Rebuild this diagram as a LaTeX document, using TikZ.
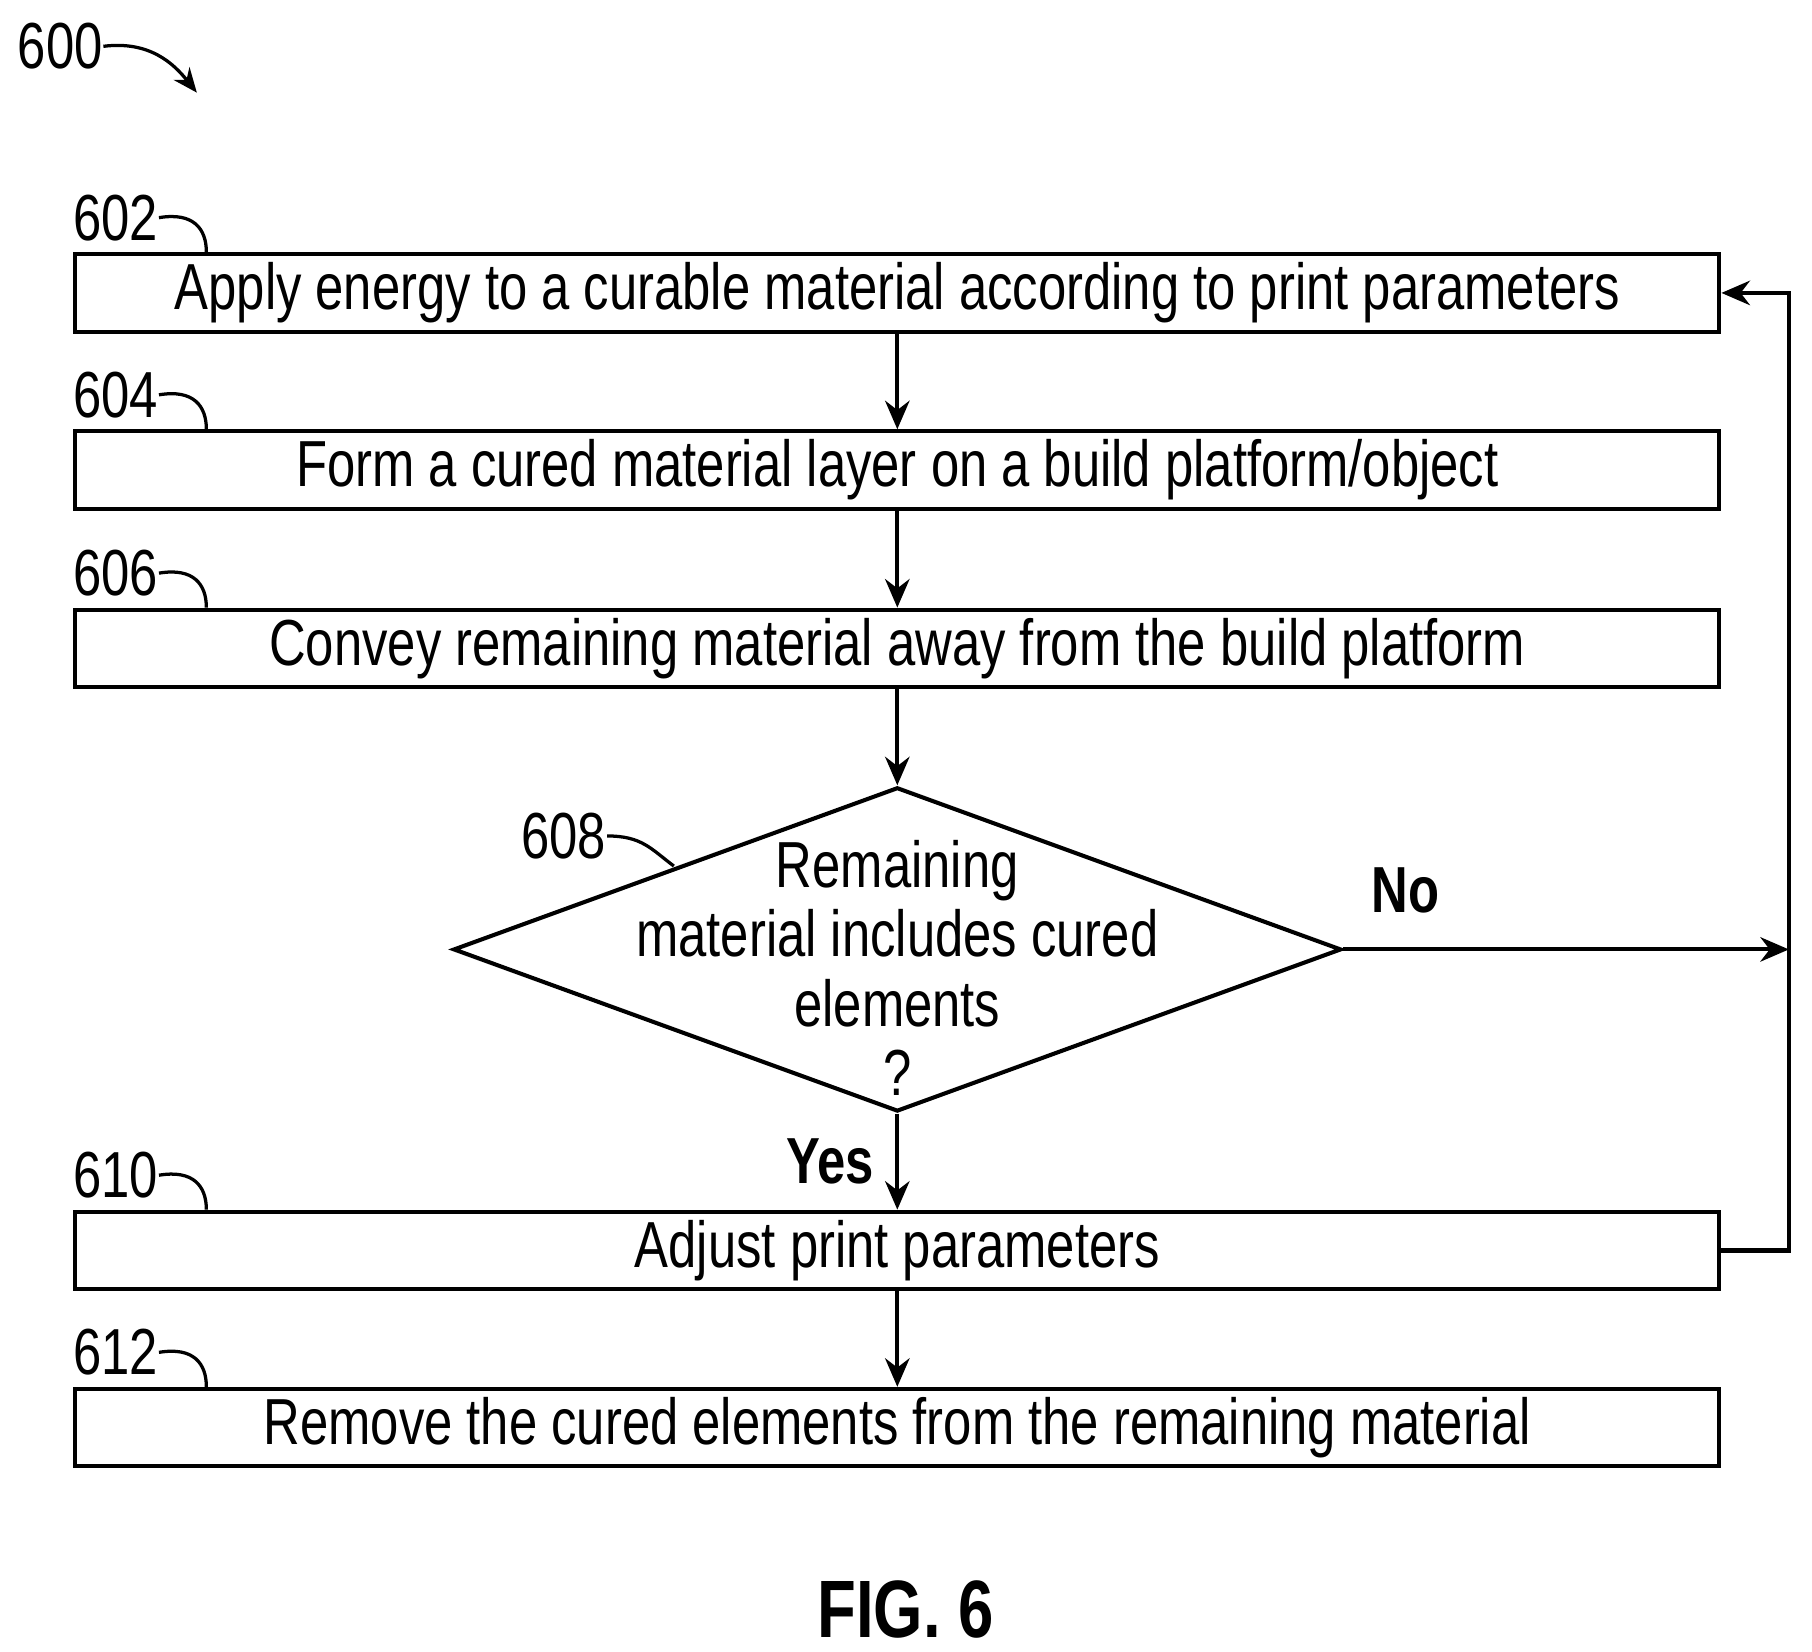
\documentclass[tikz,border=0pt]{standalone}
\usepackage{fontspec}
\setmainfont{Liberation Sans}[FakeStretch=0.78]
\usetikzlibrary{shapes.geometric,positioning,arrows.meta,calc}

\tikzset{
  stepbox/.style={draw, line width=1pt, minimum width=14.2cm, minimum height=0.67cm, inner sep=0pt},
  ref/.style={inner sep=0pt, anchor=center},
  hook/.style={line width=0.8pt},
  flow/.style={line width=1pt, -{Stealth[length=7pt,width=6pt]}},
}

\begin{document}
\begin{tikzpicture}[font=\fontsize{16}{19}\selectfont]
                \useasboundingbox (0,0) rectangle (15.65,-14.26);
                % --------
                % Steps
                % --------
                \node[stepbox] at (7.75,-2.53) (b602) {Apply energy to a curable material according to print parameters};
                \node[stepbox] at (7.75,-4.06) (b604) {Form a cured material layer on a build platform/object};
                \node[stepbox] at (7.75,-5.60) (b606) {Convey remaining material away from the build platform};
                
                \node[draw, diamond, line width=1pt, minimum width=7.67cm, minimum height=2.8cm, inner sep=0pt] at (7.75,-8.20) (d608) {};
                \node[align=center, font=\fontsize{16}{17}\selectfont] at (7.75,-8.36) (t608) {Remaining\\material includes cured\\elements\\?};
                
                \node[stepbox] at (7.75,-10.80) (b610) {Adjust print parameters};
                \node[stepbox] at (7.75,-12.33) (b612) {Remove the cured elements from the remaining material};
                
                % Reference numerals
                \node[ref] at (0.52,-0.40) (l600) {600};
                \node[ref] at (1.00,-1.88) (l602) {602};
                \node[ref] at (1.00,-3.41) (l604) {604};
                \node[ref] at (1.00,-4.95) (l606) {606};
                \node[ref] at (4.87,-7.22) (l608) {608};
                \node[ref] at (1.00,-10.15) (l610) {610};
                \node[ref] at (1.00,-11.68) (l612) {612};
                
                \coordinate (c600) at (1.70,-0.80);
                \coordinate (c608) at (5.82,-7.48);
                \coordinate (c602) at ($(b602.north west)+(1.15,0)$);
                \coordinate (c604) at ($(b604.north west)+(1.15,0)$);
                \coordinate (c606) at ($(b606.north west)+(1.15,0)$);
                \coordinate (c610) at ($(b610.north west)+(1.15,0)$);
                \coordinate (c612) at ($(b612.north west)+(1.15,0)$);
                \coordinate (loop) at (15.45,-8.20);
                
                % Draw line
                \draw[hook, -{Stealth[length=6pt,width=5pt]}] (l600.east) .. controls +(0.4,0.05) and +(-0.2,0.25) .. (c600);
                \foreach \n in {602,604,606,610,612}
                  \draw[hook] (l\n.east) .. controls +(0.3,0.05) and +(0,0.2) .. (c\n);
                \draw[hook] (l608.east) .. controls +(0.3,0) and +(-0.2,0.15) .. (c608);
                
                \draw[flow] (b602) -- (b604);
                \draw[flow] (b604) -- (b606);
                \draw[flow] (b606) -- (d608.north);
                \draw[flow] (d608.south) -- node[left=2pt, font=\fontsize{16}{19}\bfseries\selectfont] {Yes} (b610);
                \draw[flow] (b610) -- (b612);
                \draw[flow] (d608.east) -- node[pos=0.14, above=5pt, font=\fontsize{16}{19}\bfseries\selectfont] {No} (loop);
                \draw[flow] (b610.east) -| (loop) |- (b602.east);
                
                \node[font=\fontsize{20}{24}\bfseries\selectfont] at (7.82,-13.90) (fig) {FIG. 6};
\end{tikzpicture}
\end{document}
